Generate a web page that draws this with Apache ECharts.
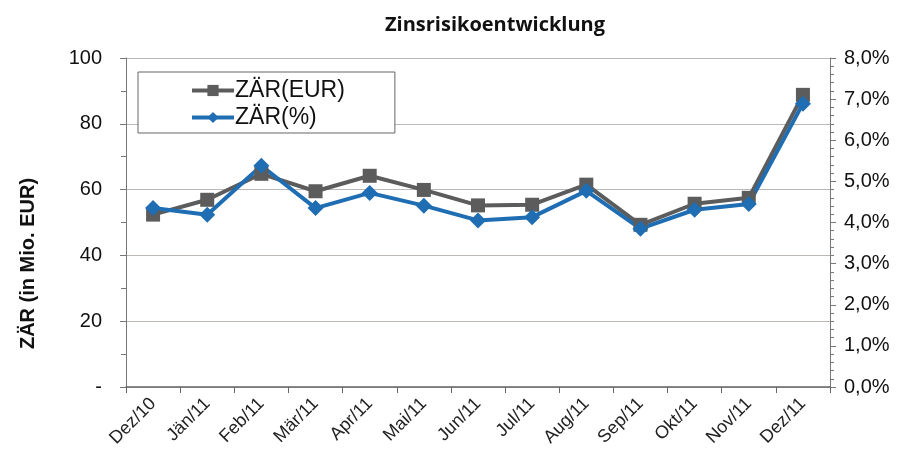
<!DOCTYPE html>
<html><head><meta charset="utf-8">
<script src="https://cdn.jsdelivr.net/npm/echarts@6/dist/echarts.min.js"></script>
<style>html,body{margin:0;padding:0;background:#fff}#c{width:904px;height:466px}</style>
</head><body><div id="c"></div>
<script>
const categories = ['Dez/10','Jän/11','Feb/11','Mär/11','Apr/11','Mai/11','Jun/11','Jul/11','Aug/11','Sep/11','Okt/11','Nov/11','Dez/11'];
const zarEur = [52.4, 56.9, 64.8, 59.5, 64.2, 59.9, 55.2, 55.4, 61.5, 49.3, 55.7, 57.5, 88.8];
const zarPct = [4.35, 4.19, 5.38, 4.35, 4.72, 4.41, 4.05, 4.13, 4.77, 3.85, 4.31, 4.45, 6.89];
const leftTicks = {min: 0, max: 100, interval: 20};
const rightTicks = {min: 0, max: 8, interval: 1};

const chart = echarts.init(document.getElementById('c'), null, {renderer: 'canvas'});
const font = '"Liberation Sans", Arial, sans-serif';
chart.setOption({
  animation: false,
  backgroundColor: '#fff',
  title: {
    text: 'Zinsrisikoentwicklung',
    left: 490, top: 10, textAlign: 'center',
    textStyle: {fontFamily: '"Open Sans", sans-serif', fontWeight: 'bold', fontSize: 20, color: '#111'}
  },
  grid: {left: 126, right: 74, top: 58, bottom: 79},
  legend: {
    orient: 'vertical', left: 138, top: 72,
    padding: [7, 50, 4, 52],
    itemGap: 4, itemWidth: 42, itemHeight: 14,
    backgroundColor: '#fff', borderColor: '#666', borderWidth: 1,
    lineStyle: {width: 4},
    textStyle: {fontFamily: font, fontSize: 23, color: '#111', padding: [0, 0, 0, -4]},
    data: ['ZÄR(EUR)', 'ZÄR(%)']
  },
  xAxis: {
    type: 'category', data: categories, boundaryGap: true,
    axisLine: {lineStyle: {color: '#666', width: 1.5}},
    axisTick: {show: true, length: 6, lineStyle: {color: '#666'}},
    axisLabel: {rotate: 45, margin: 14, fontFamily: font, fontSize: 18, color: '#222'}
  },
  yAxis: [
    {
      type: 'value', min: leftTicks.min, max: leftTicks.max, interval: leftTicks.interval,
      name: 'ZÄR (in Mio. EUR)', nameLocation: 'middle', nameGap: 88, nameRotate: 90,
      nameTextStyle: {fontFamily: font, fontWeight: 'bold', fontSize: 20, color: '#111', padding: [0, 82, 0, 0]},
      axisLine: {show: true, lineStyle: {color: '#777'}},
      axisTick: {show: true, length: 6, lineStyle: {color: '#777'}},
      minorTick: {show: true, splitNumber: 2, length: 5, lineStyle: {color: '#777'}},
      splitLine: {show: true, lineStyle: {color: '#bdb8b4', width: 1.2}},
      axisLabel: {margin: 24, fontFamily: font, fontSize: 20, color: '#111',
        formatter: v => v === 0 ? '-' : String(v)}
    },
    {
      type: 'value', min: rightTicks.min, max: rightTicks.max, interval: rightTicks.interval,
      position: 'right',
      axisLine: {show: true, lineStyle: {color: '#777'}},
      axisTick: {show: true, length: 6, lineStyle: {color: '#777'}},
      minorTick: {show: true, splitNumber: 5, length: 4, lineStyle: {color: '#777'}},
      splitLine: {show: false},
      axisLabel: {margin: 14, fontFamily: font, fontSize: 20, color: '#111',
        formatter: v => v.toFixed(1).replace('.', ',') + '%'}
    }
  ],
  series: [
    {
      name: 'ZÄR(EUR)', type: 'line', yAxisIndex: 0, data: zarEur,
      symbol: 'rect', symbolSize: 14,
      lineStyle: {color: '#5c5c5c', width: 4},
      itemStyle: {color: '#5c5c5c'}
    },
    {
      name: 'ZÄR(%)', type: 'line', yAxisIndex: 1, data: zarPct,
      symbol: 'diamond', symbolSize: 16,
      lineStyle: {color: '#1f6db2', width: 4},
      itemStyle: {color: '#1f6db2'}
    }
  ]
});
</script>
</body></html>
